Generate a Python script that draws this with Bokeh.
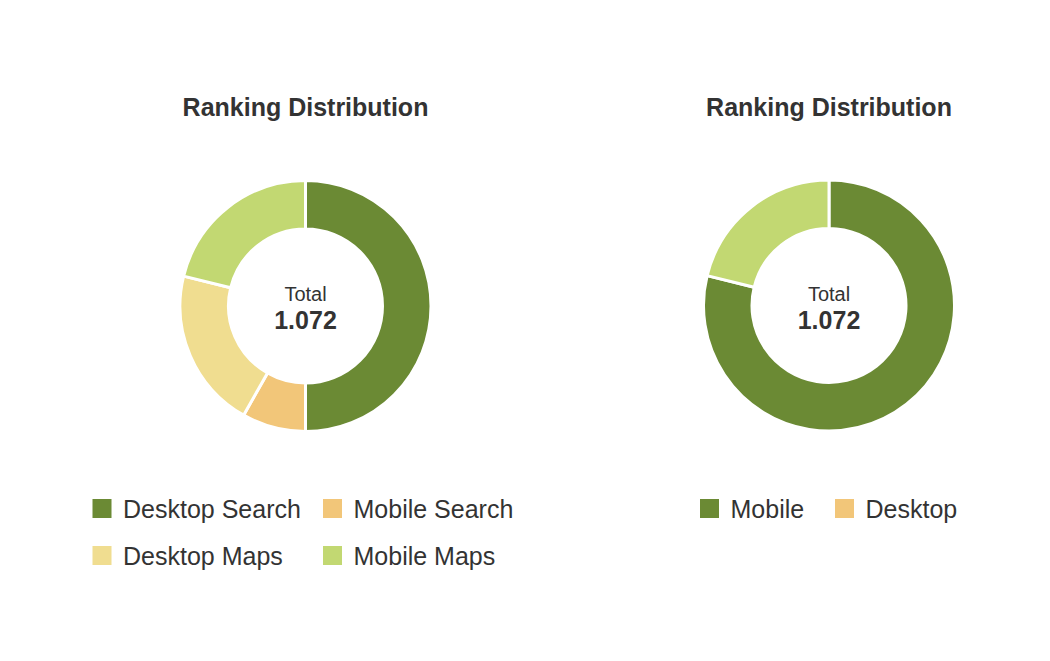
import numpy as np
from bokeh.plotting import figure
from bokeh.models import Range1d
from bokeh.core.properties import value
from bokeh.embed import file_html
from bokeh.resources import INLINE

# data
left_labels = ["Desktop Search", "Mobile Search", "Desktop Maps", "Mobile Maps"]
left_values = [536, 88, 221, 227]
left_colors = ["#6b8a34", "#f2c679", "#f0dd90", "#c2d872"]

right_labels = ["Mobile", "Desktop"]
right_values = [845, 227]
right_slice_colors = ["#6b8a34", "#c2d872"]
right_legend_colors = ["#6b8a34", "#f2c679"]

title_text = "Ranking Distribution"
total_label = "Total"
total_text = "1.072"

FONT = value("Liberation Sans")
TXT = "#333333"
H = 653  # page y -> plot y

p = figure(width=1034, height=645, output_backend="svg", toolbar_location=None,
           x_range=Range1d(0, 1034), y_range=Range1d(8, 653),
           min_border=0, outline_line_color=None)
p.axis.visible = False
p.grid.visible = False


def donut(cx, cy, vals, colors):
    frac = np.cumsum([0] + list(vals)) / float(sum(vals))
    starts = np.pi / 2 - 2 * np.pi * frac[:-1]
    ends = np.pi / 2 - 2 * np.pi * frac[1:]
    p.annular_wedge(x=cx, y=H - cy, inner_radius=77, outer_radius=125.5,
                    inner_radius_units="screen", outer_radius_units="screen",
                    start_angle=starts, end_angle=ends, direction="clock",
                    fill_color=colors, line_color="white", line_width=3)
    p.text(x=[cx], y=[H - 293], text=[total_label], text_font=FONT,
           text_font_size="20px", text_color=TXT, text_align="center",
           text_baseline="middle")
    p.text(x=[cx], y=[H - 319], text=[total_text], text_font=FONT,
           text_font_size="25px", text_font_style="bold", text_color=TXT,
           text_align="center", text_baseline="middle")
    p.text(x=[cx], y=[H - 106], text=[title_text], text_font=FONT,
           text_font_size="25px", text_font_style="bold", text_color=TXT,
           text_align="center", text_baseline="middle")


def legend(xs, ys, labels, colors):
    p.rect(x=[x + 9.5 for x in xs], y=[H - y for y in ys], width=19, height=19,
           width_units="screen", height_units="screen",
           fill_color=colors, line_color=None)
    p.text(x=[x + 30.5 for x in xs], y=[H - y for y in ys], text=labels,
           text_font=FONT, text_font_size="25px", text_color=TXT,
           text_align="left", text_baseline="middle")


donut(305, 305.5, left_values, left_colors)
donut(828.5, 305, right_values, right_slice_colors)

legend([92, 322.5, 92, 322.5], [508, 508, 555, 555], left_labels, left_colors)
legend([699.5, 834.5], [508, 508], right_labels, right_legend_colors)

open("out.html", "w").write(file_html(p, INLINE))
